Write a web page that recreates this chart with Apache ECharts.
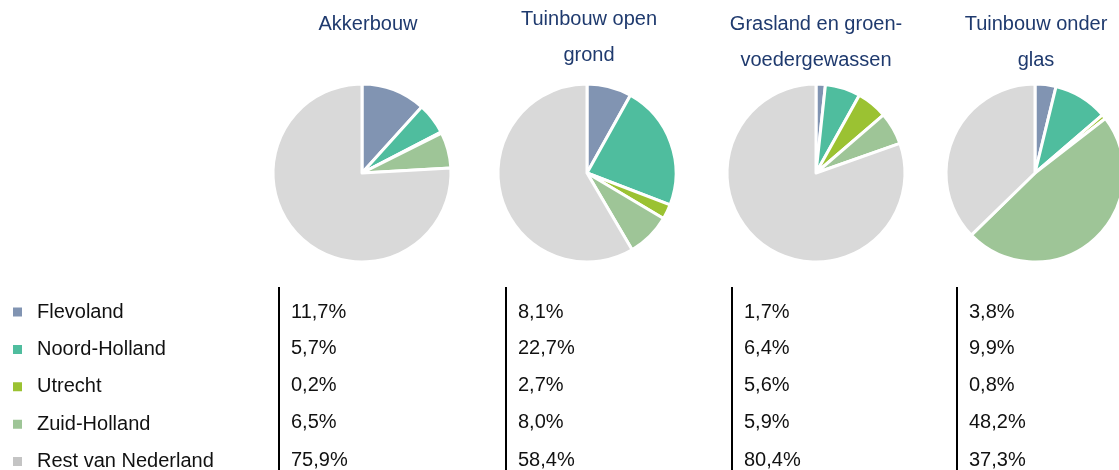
<!DOCTYPE html>
<html>
<head>
<meta charset="utf-8">
<script src="https://cdn.jsdelivr.net/npm/echarts@6/dist/echarts.min.js"></script>
<style>
  html, body { margin: 0; padding: 0; background: #fff; }
  #chart { width: 1119px; height: 470px; }
</style>
</head>
<body>
<div id="chart"></div>
<script>
// provinces (rows) and sectors (pies / columns)
let provinces = ['Flevoland', 'Noord-Holland', 'Utrecht', 'Zuid-Holland', 'Rest van Nederland'];
let sectors = ['Akkerbouw', 'Tuinbouw open\ngrond', 'Grasland en groen-\nvoedergewassen', 'Tuinbouw onder\nglas'];
let akkerbouw = [11.7, 5.7, 0.2, 6.5, 75.9];
let tuinbouwOpen = [8.1, 22.7, 2.7, 8.0, 58.4];
let grasland = [1.7, 6.4, 5.6, 5.9, 80.4];
let tuinbouwGlas = [3.8, 9.9, 0.8, 48.2, 37.3];

let colors = ['#8194b2', '#4fbd9e', '#9bc232', '#9ec597', '#d9d9d9'];
let legendColors = ['#8194b2', '#4fbd9e', '#9bc232', '#9ec597', '#c4c4c4'];

let allData = [akkerbouw, tuinbouwOpen, grasland, tuinbouwGlas];
let pieX = [362, 587, 816, 1035];
let titleX = [368, 589, 816, 1036];
let titleTop = [6, 1, 6, 6];
let colX = [279, 506, 732, 957];
let rowY = [312, 348, 385, 422, 460];

let FONT = '"Liberation Sans", Arial, sans-serif';

let chart = echarts.init(document.getElementById('chart'));

let series = allData.map(function (vals, i) {
  return {
    type: 'pie',
    center: [pieX[i], 173],
    radius: 89,
    startAngle: 90,
    clockwise: true,
    label: { show: false },
    labelLine: { show: false },
    silent: true,
    itemStyle: { borderColor: '#fff', borderWidth: 3 },
    data: vals.map(function (v, j) {
      return { name: provinces[j], value: v, itemStyle: { color: colors[j] } };
    })
  };
});

let titles = sectors.map(function (s, i) {
  return {
    text: s,
    left: titleX[i],
    top: titleTop[i],
    textAlign: 'center',
    padding: 0,
    textStyle: {
      color: '#1f3a6e',
      fontSize: 20,
      fontWeight: 'normal',
      fontFamily: FONT,
      lineHeight: 36
    }
  };
});

let fmt = function (v) { return v.toFixed(1).replace('.', ',') + '%'; };

let graphics = [];
colX.forEach(function (x, i) {
  graphics.push({
    type: 'line',
    shape: { x1: x, y1: 287, x2: x, y2: 470 },
    style: { stroke: '#000', lineWidth: 2 }
  });
  allData[i].forEach(function (v, j) {
    graphics.push({
      type: 'text',
      x: x + 12,
      y: rowY[j],
      style: {
        text: fmt(v),
        fill: '#111',
        font: '20px ' + FONT,
        verticalAlign: 'middle'
      }
    });
  });
});

chart.setOption({
  animation: false,
  title: titles,
  legend: {
    orient: 'vertical',
    left: 11,
    top: 302,
    height: 200,
    padding: 0,
    icon: 'rect',
    itemWidth: 11,
    itemHeight: 11,
    itemGap: 17.4,
    selectedMode: false,
    textStyle: {
      color: '#111',
      fontSize: 20,
      lineHeight: 20,
      fontFamily: FONT,
      padding: [0, 0, 0, 9]
    },
    data: provinces.map(function (p, j) {
      return { name: p, itemStyle: { color: legendColors[j] } };
    })
  },
  graphic: graphics,
  series: series
});
</script>
</body>
</html>
